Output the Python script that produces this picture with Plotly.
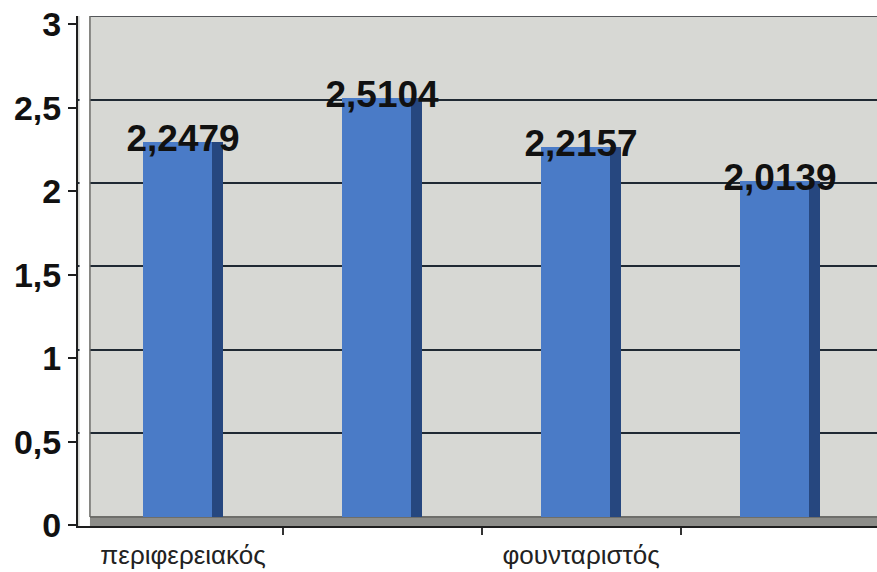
import plotly.graph_objects as go

# ---- data ----
category_labels = ["περιφερειακός", "", "φουνταριστός", ""]
values = [2.2479, 2.5104, 2.2157, 2.0139]
value_texts = ["2,2479", "2,5104", "2,2157", "2,0139"]
y_tick_vals = [0, 0.5, 1, 1.5, 2, 2.5, 3]
y_tick_text = ["0", "0,5", "1", "1,5", "2", "2,5", "3"]

xs = list(range(len(values)))
label_x = [i for i, t in enumerate(category_labels) if t]
label_t = [t for t in category_labels if t]
boundaries = [i + 0.5 for i in xs]

fig = go.Figure()

# front face
fig.add_trace(go.Bar(
    x=xs, y=values, width=0.345, offset=-0.2,
    marker=dict(color="#4a7bc7", line=dict(width=0)),
    hoverinfo="skip", showlegend=False,
))
# side face (depth)
fig.add_trace(go.Bar(
    x=xs, y=values, width=0.055, offset=0.145,
    marker=dict(color="#26477f", line=dict(width=0)),
    hoverinfo="skip", showlegend=False,
))
# value labels
fig.add_trace(go.Scatter(
    x=xs, y=values, mode="text", text=value_texts,
    textposition="middle center",
    textfont=dict(family="Liberation Sans, Arial, sans-serif", size=37,
                  color="#111111", weight="bold"),
    hoverinfo="skip", showlegend=False,
))
# invisible trace on front axis
fig.add_trace(go.Scatter(
    x=[xs[0]], y=[0], yaxis="y2", mode="markers",
    marker=dict(opacity=0), hoverinfo="skip", showlegend=False,
))

x_range = [-0.528, 3.487]
fig.update_layout(
    width=877, height=572,
    margin=dict(l=78, r=0, t=16, b=46),
    paper_bgcolor="white",
    plot_bgcolor="#d7d8d4",
    barmode="overlay",
    bargap=0,
    separators=",.",
    xaxis=dict(
        range=x_range, showgrid=False, zeroline=False,
        tickmode="array", tickvals=label_x, ticktext=label_t,
        ticks="", showline=True, linecolor="#1e1e1e", linewidth=2,
        ticklabelstandoff=5,
        tickfont=dict(family="Liberation Sans, Arial, sans-serif", size=26, color="#222222"),
        minor=dict(tickmode="array", tickvals=boundaries, ticks="outside",
                   ticklen=7, tickwidth=2, tickcolor="#333333", showgrid=False),
        fixedrange=True,
    ),
    yaxis=dict(
        range=[-0.054, 3.0], showticklabels=False, ticks="",
        tickmode="array", tickvals=y_tick_vals[1:],
        showgrid=True, gridcolor="#1f2933", gridwidth=2,
        zeroline=False, showline=False, fixedrange=True,
    ),
    yaxis2=dict(
        range=[-0.004, 3.05], overlaying="y", anchor="x", side="left",
        tickmode="array", tickvals=y_tick_vals, ticktext=y_tick_text,
        ticks="outside", ticklen=8, tickwidth=2, tickcolor="#1e1e1e",
        showline=True, linecolor="#1e1e1e", linewidth=2,
        showgrid=False, zeroline=False,
        tickfont=dict(family="Liberation Sans, Arial, sans-serif", size=34,
                      color="#111111", weight="bold"),
        fixedrange=True,
    ),
    shapes=[
        # floor
        dict(type="rect", xref="x", yref="y", x0=-0.47, x1=x_range[1],
             y0=-0.054, y1=0.0, fillcolor="#8d8d89", line=dict(width=0), layer="below"),
        dict(type="line", xref="x", yref="y", x0=-0.47, x1=x_range[1],
             y0=0.0, y1=0.0, line=dict(color="#6e6e6a", width=2), layer="below"),
        # gap between front axis and back wall
        dict(type="rect", xref="x", yref="paper", x0=x_range[0] + 0.008, x1=-0.468,
             y0=0.0, y1=1.0, fillcolor="white", line=dict(width=0), layer="above"),
        # back wall edges
        dict(type="line", xref="x", yref="y", x0=-0.468, x1=-0.468, y0=0.0, y1=3.0,
             line=dict(color="#6a6a66", width=1.5), layer="above"),
        dict(type="line", xref="x", yref="y", x0=-0.468, x1=x_range[1], y0=3.0, y1=3.0,
             line=dict(color="#55575a", width=2), layer="below"),
    ],
)

fig.write_html(
    "out.html",
    config={"displayModeBar": False},
    post_script="document.body.style.margin='0';document.body.style.overflow='hidden';",
)
